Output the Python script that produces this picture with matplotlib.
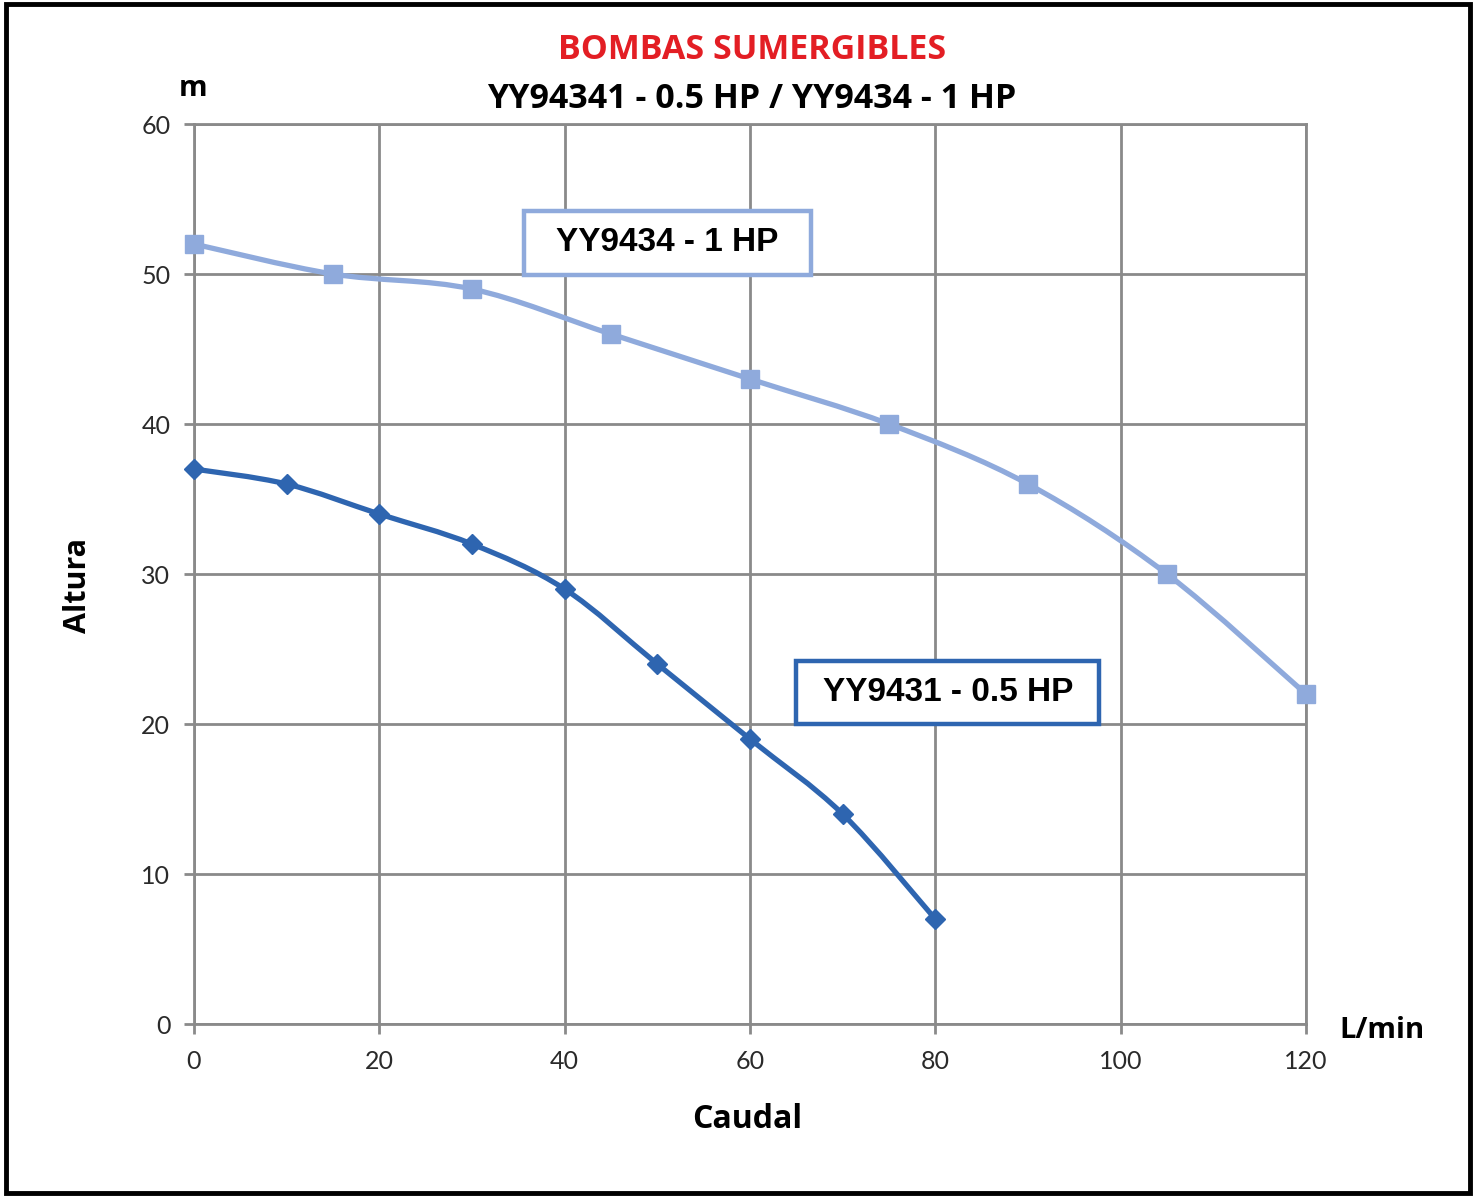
import matplotlib.pyplot as plt
import numpy as np
from matplotlib.path import Path
from matplotlib.patches import PathPatch, Rectangle

# data
caudal_1hp = [0, 15, 30, 45, 60, 75, 90, 105, 120]
altura_1hp = [52, 50, 49, 46, 43, 40, 36, 30, 22]
caudal_05hp = [0, 10, 20, 30, 40, 50, 60, 70, 80]
altura_05hp = [37, 36, 34, 32, 29, 24, 19, 14, 7]
x_ticks = [0, 20, 40, 60, 80, 100, 120]
y_ticks = [0, 10, 20, 30, 40, 50, 60]

LIGHT = '#8FAADC'
DARK = '#2E65B0'
GRID = '#8A8A8A'


def smooth_path(xs, ys):
    # Excel-like smoothed line: cubic Bezier through the points
    pts = np.column_stack([xs, ys]).astype(float)
    verts = [pts[0]]
    codes = [Path.MOVETO]
    n = len(pts)
    for i in range(n - 1):
        p0 = pts[i - 1] if i > 0 else pts[i]
        p1, p2 = pts[i], pts[i + 1]
        p3 = pts[i + 2] if i + 2 < n else pts[i + 1]
        c1 = p1 + (p2 - p0) / 6.0
        c2 = p2 - (p3 - p1) / 6.0
        verts += [c1, c2, p2]
        codes += [Path.CURVE4] * 3
    return Path(verts, codes)


fig = plt.figure(figsize=(14.77, 11.97), dpi=100)
ax = fig.add_axes([0.1313, 0.1445, 0.7529, 0.7519])

for xs, ys, col in [(caudal_1hp, altura_1hp, LIGHT), (caudal_05hp, altura_05hp, DARK)]:
    ax.add_patch(PathPatch(smooth_path(xs, ys), facecolor='none', edgecolor=col,
                           linewidth=3.8, capstyle='round', joinstyle='round', zorder=3))

ax.plot(caudal_1hp, altura_1hp, linestyle='none', marker='s', markersize=13,
        color=LIGHT, zorder=4, clip_on=False)
ax.plot(caudal_05hp, altura_05hp, linestyle='none', marker='D', markersize=10,
        color=DARK, zorder=4, clip_on=False)

ax.set_xlim(0, 120)
ax.set_ylim(0, 60)
ax.set_xticks(x_ticks)
ax.set_yticks(y_ticks)
ax.grid(True, color=GRID, linewidth=2.0)
ax.set_axisbelow(True)
for s in ax.spines.values():
    s.set_color(GRID)
    s.set_linewidth(2.0)
ax.tick_params(direction='out', length=7, width=2, color=GRID, labelsize=18,
               labelcolor='#2a2a2a')
ax.tick_params(axis='x', pad=12)
ax.tick_params(axis='y', pad=10)
for lbl in ax.get_xticklabels() + ax.get_yticklabels():
    lbl.set_fontfamily('Lato')

fig.text(0.509, 0.958, 'BOMBAS SUMERGIBLES', color='#E31E24', fontsize=24.5,
         fontweight='bold', family='Open Sans', ha='center', va='center')
fig.text(0.509, 0.917, 'YY94341 - 0.5 HP / YY9434 - 1 HP', color='black', fontsize=24.5,
         fontweight='bold', family='Open Sans', ha='center', va='center')
fig.text(0.131, 0.926, 'm', fontsize=21, fontweight='bold', family='Open Sans',
         ha='center', va='center')
fig.text(0.9355, 0.139, 'L/min', fontsize=21, fontweight='bold', family='Open Sans',
         ha='center', va='center')
fig.text(0.506, 0.065, 'Caudal', fontsize=23, fontweight='bold', family='Open Sans',
         ha='center', va='center')
fig.text(0.053, 0.511, 'Altura', fontsize=22, fontweight='bold', family='Open Sans',
         ha='center', va='center', rotation=90)

# labelled boxes (data coordinates)
ax.add_patch(Rectangle((35.6, 49.93), 31.0, 4.27, facecolor='white', edgecolor=LIGHT,
                       linewidth=3.2, zorder=5))
ax.text(51.1, 52.07, 'YY9434 - 1 HP', fontsize=24, fontweight='bold',
        family='Liberation Sans', ha='center', va='center', zorder=6)
ax.add_patch(Rectangle((65.0, 20.0), 32.7, 4.2, facecolor='white', edgecolor=DARK,
                       linewidth=3.2, zorder=5))
ax.text(81.35, 22.1, 'YY9431 - 0.5 HP', fontsize=24, fontweight='bold',
        family='Liberation Sans', ha='center', va='center', zorder=6)

fig.add_artist(Rectangle((0.004, 0.003), 0.991, 0.994, transform=fig.transFigure,
                         fill=False, edgecolor='black', linewidth=3.5))

fig.savefig('out.png', dpi=100)
